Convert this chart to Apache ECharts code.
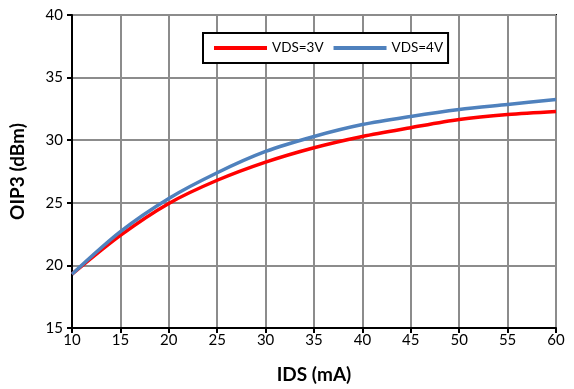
<!DOCTYPE html>
<html><head><meta charset="utf-8">
<script src="https://cdn.jsdelivr.net/npm/echarts@6/dist/echarts.min.js"></script>
<style>html,body{margin:0;padding:0;background:#fff}#c{width:574px;height:389px}</style>
</head><body><div id="c"></div>
<script>
const ids = [10, 15, 20, 25, 30, 35, 40, 45, 50, 55, 60];
const vds3 = [19.3, 22.4, 24.95, 26.8, 28.25, 29.4, 30.3, 31.0, 31.65, 32.05, 32.3];
const vds4 = [19.3, 22.7, 25.35, 27.4, 29.1, 30.3, 31.25, 31.9, 32.45, 32.85, 33.25];
const seriesNames = ['VDS=3V', 'VDS=4V'];
const colors = ['#ff0000', '#4f81bd'];
const font = 'Lato, "Open Sans", sans-serif';

const chart = echarts.init(document.getElementById('c'), null, {renderer: 'canvas'});
chart.setOption({
  animation: false,
  backgroundColor: '#fff',
  grid: {left: 71, top: 15, right: 18, bottom: 59, show: true, borderColor: '#000', borderWidth: 2, containLabel: false},
  legend: {
    orient: 'horizontal',
    left: 203, top: 33,
    padding: [8, 5, 8, 11],
    borderColor: '#000', borderWidth: 2, backgroundColor: '#fff',
    itemGap: 10, itemWidth: 53, itemHeight: 4, icon: 'rect',
    textStyle: {fontFamily: font, fontSize: 13.5, color: '#000'},
    data: seriesNames
  },
  xAxis: {
    type: 'value', min: 10, max: 60, interval: 5,
    name: 'IDS (mA)', nameLocation: 'middle', nameGap: 37,
    nameTextStyle: {fontFamily: font, fontSize: 19, fontWeight: 'bold', color: '#000'},
    axisLine: {lineStyle: {color: '#000', width: 2}},
    axisTick: {show: true, length: 5, lineStyle: {color: '#000', width: 2}},
    axisLabel: {fontFamily: font, fontSize: 15, color: '#000', margin: 5},
    splitLine: {show: true, lineStyle: {color: '#8c8c8c', width: 2}}
  },
  yAxis: {
    type: 'value', min: 15, max: 40, interval: 5,
    name: 'OIP3 (dBm)', nameLocation: 'middle', nameGap: 45,
    nameTextStyle: {fontFamily: font, fontSize: 19, fontWeight: 'bold', color: '#000'},
    axisLine: {show: true, lineStyle: {color: '#000', width: 2}},
    axisTick: {show: true, length: 5, lineStyle: {color: '#000', width: 2}},
    axisLabel: {fontFamily: font, fontSize: 15, color: '#000', margin: 9},
    splitLine: {show: true, lineStyle: {color: '#8c8c8c', width: 2}}
  },
  series: [
    {name: seriesNames[0], type: 'line', smooth: 0.3, showSymbol: false, symbol: 'none',
     data: ids.map((x, i) => [x, vds3[i]]), lineStyle: {color: colors[0], width: 3.5}, itemStyle: {color: colors[0]}, z: 2},
    {name: seriesNames[1], type: 'line', smooth: 0.3, showSymbol: false, symbol: 'none',
     data: ids.map((x, i) => [x, vds4[i]]), lineStyle: {color: colors[1], width: 3.5}, itemStyle: {color: colors[1]}, z: 3}
  ]
});
</script></body></html>
